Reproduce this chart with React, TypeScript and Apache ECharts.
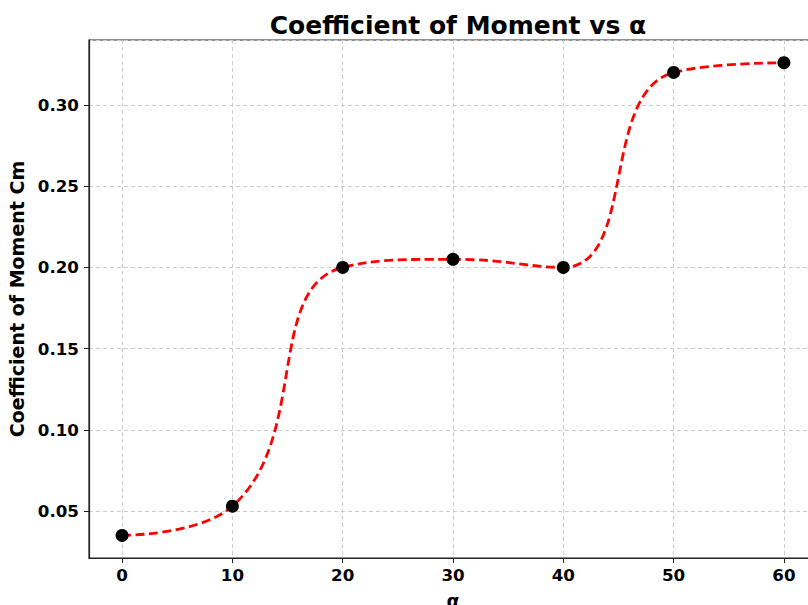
import React, { useEffect, useRef } from "react";
import * as echarts from "echarts";

const alphaValues = [0, 10, 20, 30, 40, 50, 60];
const cmValues = [0.035, 0.053, 0.2, 0.205, 0.2, 0.32, 0.326];
const titleText = "Coefficient of Moment vs α";
const xName = "α";
const yName = "Coefficient of Moment Cm";

export default function App() {
  const ref = useRef<HTMLDivElement>(null);
  useEffect(() => {
    if (!ref.current) return;
    const chart = echarts.init(ref.current, undefined, { renderer: "svg" });
    const pts = alphaValues.map((a, i) => [a, cmValues[i]]);
    const font = "'DejaVu Sans', sans-serif";
    chart.setOption({
      animation: false,
      backgroundColor: "#ffffff",
      title: {
        text: titleText,
        left: 453,
        textAlign: "center",
        top: 8,
        textStyle: { fontFamily: font, fontWeight: "bold", fontSize: 25, color: "#000" },
      },
      grid: {
        left: 89,
        top: 40,
        width: 728,
        height: 518,
        outerBoundsMode: "none",
        containLabel: false,
        show: true,
        borderColor: "#222",
        borderWidth: 1.2,
        backgroundColor: "transparent",
      },
      xAxis: {
        type: "value",
        min: -3,
        max: 63,
        splitNumber: 6,
        name: xName,
        nameLocation: "middle",
        nameGap: 33,
        nameTextStyle: { fontFamily: font, fontWeight: "bold", fontSize: 19, color: "#000" },
        axisLine: { show: true, onZero: false, lineStyle: { color: "#222", width: 1.2 } },
        axisTick: { show: true, length: 5, lineStyle: { color: "#222", width: 1 } },
        axisLabel: {
          showMinLabel: false,
          showMaxLabel: false,
          margin: 8,
          fontFamily: font,
          fontWeight: "bold",
          fontSize: 16.7,
          color: "#000",
        },
        splitLine: { show: true, lineStyle: { color: "#cccccc", type: [4, 3], width: 1 } },
      },
      yAxis: {
        type: "value",
        min: 0.0211,
        max: 0.34,
        splitNumber: 6,
        name: yName,
        nameLocation: "middle",
        nameGap: 58,
        nameTextStyle: { fontFamily: font, fontWeight: "bold", fontSize: 19, color: "#000" },
        axisLine: { show: true, onZero: false, lineStyle: { color: "#222", width: 1.2 } },
        axisTick: { show: true, length: 5, lineStyle: { color: "#222", width: 1 } },
        axisLabel: {
          showMinLabel: false,
          showMaxLabel: false,
          margin: 10,
          fontFamily: font,
          fontWeight: "bold",
          fontSize: 16.7,
          color: "#000",
          formatter: (v: number) => v.toFixed(2),
        },
        splitLine: { show: true, lineStyle: { color: "#cccccc", type: [4, 3], width: 1 } },
      },
      series: [
        {
          type: "line",
          data: pts,
          smooth: 0.5,
          symbol: "none",
          lineStyle: { color: "#ff0000", width: 2.8, type: [9, 4.5] },
          z: 2,
        },
        {
          type: "scatter",
          data: pts,
          symbol: "circle",
          symbolSize: 13,
          itemStyle: { color: "#000000", opacity: 1 },
          z: 3,
        },
      ],
    });
    return () => chart.dispose();
  }, []);
  return (
    <div
      ref={ref}
      style={{ position: "absolute", left: 0, top: 0, width: 808, height: 605 }}
    />
  );
}
